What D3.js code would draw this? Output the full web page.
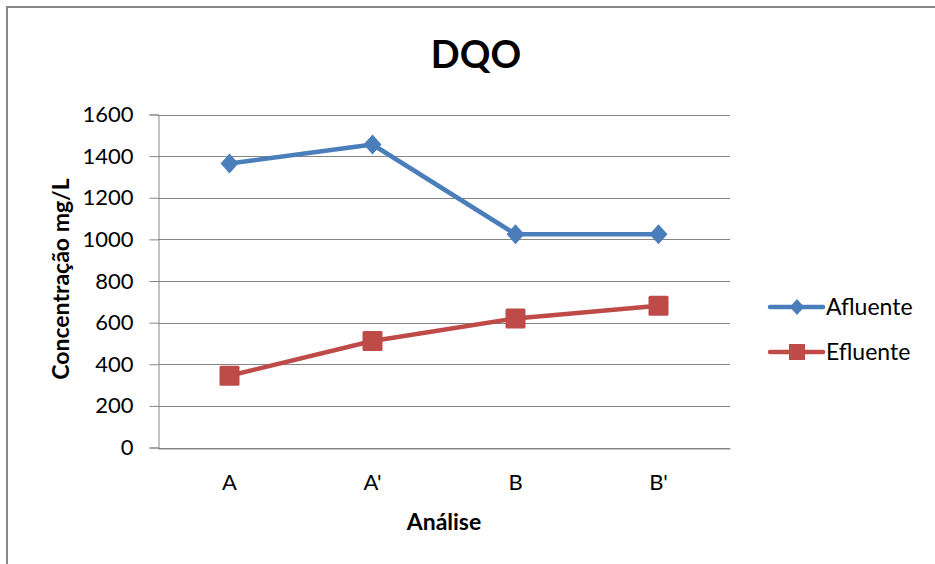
<!DOCTYPE html>
<html>
<head>
<meta charset="utf-8">
<script src="https://cdn.jsdelivr.net/npm/d3@7"></script>
<style>
  html, body { margin: 0; padding: 0; background: #fff; }
  svg { display: block; font-family: Lato, "Open Sans", sans-serif; }
</style>
</head>
<body>
<svg id="chart" width="935" height="564"></svg>
<script>
// DQO concentration per analysis point
const categories = ["A", "A'", "B", "B'"];
const afluente = [1365, 1456, 1025, 1025];
const efluente = [345, 512, 620, 681];
const yTicks = [0, 200, 400, 600, 800, 1000, 1200, 1400, 1600];
const seriesNames = ["Afluente", "Efluente"];

const blue = "#4A7EBB";
const red = "#BE4B48";
const gridColor = "#868686";

const svg = d3.select("#chart");

// outer chart frame
svg.append("rect")
  .attr("x", 7).attr("y", 7)
  .attr("width", 1000).attr("height", 1000)
  .attr("fill", "#fff")
  .attr("stroke", "#878787")
  .attr("stroke-width", 2);

const plot = { left: 158, right: 730, top: 114.5, bottom: 447.5 };

const x = d3.scaleBand().domain(categories).range([plot.left, plot.right]);
const y = d3.scaleLinear().domain([0, 1600]).range([plot.bottom, plot.top]);

// horizontal gridlines
svg.append("g")
  .selectAll("line")
  .data(yTicks)
  .join("line")
  .attr("x1", plot.left)
  .attr("x2", plot.right)
  .attr("y1", d => Math.round(y(d)) + 0.5)
  .attr("y2", d => Math.round(y(d)) + 0.5)
  .attr("stroke", gridColor)
  .attr("stroke-width", 1);

// y axis
const yAxis = svg.append("g")
  .attr("transform", `translate(${plot.left + 0.5},0)`)
  .call(d3.axisLeft(y).tickValues(yTicks).tickSize(9).tickPadding(16).tickFormat(d3.format("d")));
yAxis.select(".domain").attr("stroke", gridColor);
yAxis.selectAll(".tick line").attr("stroke", gridColor);
yAxis.selectAll(".tick text")
  .attr("fill", "#000")
  .style("font-size", "22px")
  .style("font-family", "Lato, sans-serif");

// x axis
const xAxis = svg.append("g")
  .attr("transform", `translate(0,${Math.round(plot.bottom) + 0.5})`)
  .call(d3.axisBottom(x).tickSize(0).tickPadding(26));
xAxis.select(".domain").attr("stroke", gridColor);
xAxis.selectAll(".tick text")
  .attr("fill", "#000")
  .style("font-size", "22px")
  .style("font-family", "Lato, sans-serif");

// title
svg.append("text")
  .attr("x", 476).attr("y", 68)
  .attr("text-anchor", "middle")
  .style("font-size", "38px")
  .style("font-weight", "bold")
  .text("DQO");

// axis titles
svg.append("text")
  .attr("x", 444).attr("y", 530)
  .attr("text-anchor", "middle")
  .style("font-size", "23px")
  .style("font-weight", "bold")
  .text("Análise");

svg.append("text")
  .attr("transform", `translate(69,${(plot.top + plot.bottom) / 2 - 2}) rotate(-90)`)
  .attr("text-anchor", "middle")
  .style("font-size", "23px")
  .style("font-weight", "bold")
  .text("Concentração mg/L");

// series lines and markers
const line = d3.line()
  .x((d, i) => x(categories[i]) + x.bandwidth() / 2)
  .y(d => y(d));

const diamond = s => `M0,${-s}L${s * 0.9},0L0,${s}L${-s * 0.9},0Z`;

svg.append("path")
  .datum(afluente)
  .attr("d", line)
  .attr("fill", "none")
  .attr("stroke", blue)
  .attr("stroke-width", 4.5)
  .attr("stroke-linejoin", "round");

svg.append("path")
  .datum(efluente)
  .attr("d", line)
  .attr("fill", "none")
  .attr("stroke", red)
  .attr("stroke-width", 4.5)
  .attr("stroke-linejoin", "round");

svg.append("g")
  .selectAll("path")
  .data(afluente)
  .join("path")
  .attr("transform", (d, i) => `translate(${x(categories[i]) + x.bandwidth() / 2},${y(d)})`)
  .attr("d", diamond(10))
  .attr("fill", blue);

svg.append("g")
  .selectAll("rect")
  .data(efluente)
  .join("rect")
  .attr("x", (d, i) => x(categories[i]) + x.bandwidth() / 2 - 10)
  .attr("y", d => y(d) - 10)
  .attr("width", 20).attr("height", 20)
  .attr("rx", 1.5)
  .attr("fill", red);

// legend
const legend = svg.append("g");
const legendY = [307, 352];
seriesNames.forEach((name, i) => {
  const g = legend.append("g").attr("transform", `translate(0,${legendY[i]})`);
  const col = i === 0 ? blue : red;
  g.append("line")
    .attr("x1", 770).attr("x2", 823)
    .attr("stroke", col).attr("stroke-width", 4.5)
    .attr("stroke-linecap", "round");
  if (i === 0) {
    g.append("path")
      .attr("transform", "translate(797,0)")
      .attr("d", diamond(8))
      .attr("fill", col);
  } else {
    g.append("rect")
      .attr("x", 789).attr("y", -8)
      .attr("width", 16).attr("height", 16)
      .attr("fill", col);
  }
  g.append("text")
    .attr("x", 826).attr("y", 8)
    .style("font-size", "23px")
    .text(name);
});
</script>
</body>
</html>
